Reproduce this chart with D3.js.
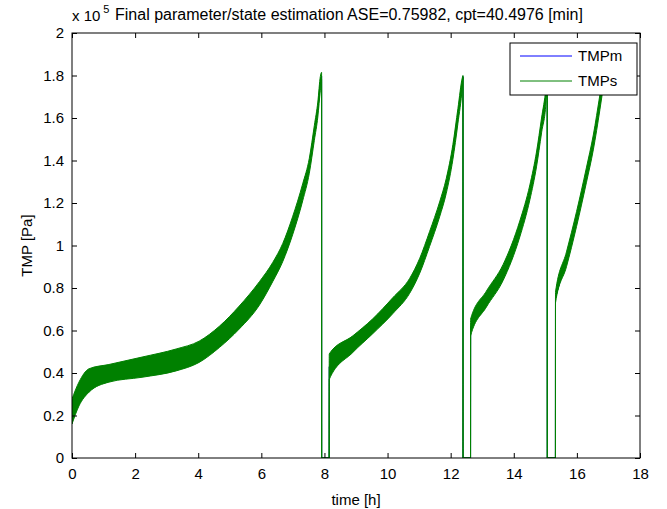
<!DOCTYPE html>
<html>
<head>
<meta charset="utf-8">
<script src="https://cdn.jsdelivr.net/npm/d3@7"></script>
<style>
  body { margin: 0; background: #fff; }
  text { font-family: "Liberation Sans", Arial, sans-serif; fill: #000; }
</style>
</head>
<body>
<div id="chart"></div>
<script>
// chart data (TMP in units of 1e5 Pa, time in hours)
// each point: time, lower and upper edge of the noisy band
var time = [
  0, 0.22, 0.54, 1.17, 2.22, 3.3, 4.03, 4.67, 5.3, 5.94, 6.36, 6.68, 6.99, 7.31, 7.52, 7.68, 7.79, 7.87, 7.91,
  7.912, 8.15,
  8.152, 8.9, 9.53, 10.17, 10.7, 11.02, 11.33, 11.65, 11.86, 12.07, 12.23, 12.37, 12.39,
  12.392, 12.63,
  12.632, 13.13, 13.66, 14.19, 14.51, 14.72, 14.88, 15.02, 15.06,
  15.062, 15.32,
  15.322, 15.67, 15.99, 16.3, 16.52, 16.73, 16.85
];
var tmpLow = [
  0.16, 0.245, 0.31, 0.357, 0.38, 0.41, 0.45, 0.52, 0.607, 0.72, 0.83, 0.925, 1.05, 1.21, 1.34, 1.495, 1.605, 1.73, 1.78,
  0, 0,
  0.37, 0.497, 0.585, 0.68, 0.775, 0.87, 0.995, 1.135, 1.245, 1.405, 1.575, 1.75, 1.79,
  0, 0,
  0.575, 0.71, 0.835, 1.04, 1.215, 1.37, 1.53, 1.67, 1.76,
  0, 0,
  0.73, 0.9, 1.09, 1.295, 1.45, 1.64, 1.76
];
var tmpHigh = [
  0.278, 0.357, 0.42, 0.44, 0.475, 0.513, 0.55, 0.62, 0.715, 0.83, 0.92, 1.01, 1.135, 1.29, 1.41, 1.565, 1.675, 1.795, 1.815,
  0, 0,
  0.49, 0.575, 0.655, 0.755, 0.845, 0.94, 1.065, 1.205, 1.315, 1.475, 1.645, 1.79, 1.80,
  0, 0,
  0.654, 0.785, 0.91, 1.115, 1.285, 1.44, 1.60, 1.74, 1.80,
  0, 0,
  0.78, 0.97, 1.16, 1.365, 1.52, 1.71, 1.82
];
var seriesNames = ["TMPm", "TMPs"];
var seriesColors = ["#0000ff", "#008000"];
var xTicks = [0, 2, 4, 6, 8, 10, 12, 14, 16, 18];
var yTicks = [0, 0.2, 0.4, 0.6, 0.8, 1, 1.2, 1.4, 1.6, 1.8, 2];
var titleText = "Final parameter/state estimation ASE=0.75982, cpt=40.4976 [min]";

var svgWidth = 667;
var svgHeight = 509;
var margin = { top: 33, right: 27, bottom: 51, left: 72 };
var width = svgWidth - margin.left - margin.right;
var height = svgHeight - margin.top - margin.bottom;

var svg = d3.select("#chart")
  .append("svg")
  .attr("width", svgWidth)
  .attr("height", svgHeight);

var chartGroup = svg.append("g")
  .attr("transform", `translate(${margin.left}, ${margin.top})`);

var xScale = d3.scaleLinear().domain([0, 18]).range([0, width]);
var yScale = d3.scaleLinear().domain([0, 2]).range([height, 0]);

var points = time.map(function (t, i) {
  return { t: t, lo: tmpLow[i], hi: tmpHigh[i], mid: (tmpLow[i] + tmpHigh[i]) / 2 };
});

// clip so nothing leaves the axes box
chartGroup.append("clipPath").attr("id", "plotClip")
  .append("rect").attr("width", width).attr("height", height);

var plot = chartGroup.append("g").attr("clip-path", "url(#plotClip)");

var midLine = d3.line()
  .x(d => xScale(d.t))
  .y(d => yScale(d.mid));

// measured TMP underneath
plot.append("path")
  .datum(points)
  .attr("fill", "none")
  .attr("stroke", seriesColors[0])
  .attr("stroke-width", 1)
  .attr("d", midLine);

// simulated TMP on top: noisy band + line
var band = d3.area()
  .x(d => xScale(d.t))
  .y0(d => yScale(d.lo))
  .y1(d => yScale(d.hi))
  .curve(d3.curveMonotoneX);

plot.append("path")
  .datum(points)
  .attr("fill", seriesColors[1])
  .attr("stroke", seriesColors[1])
  .attr("stroke-width", 1)
  .attr("d", band);

plot.append("path")
  .datum(points)
  .attr("fill", "none")
  .attr("stroke", seriesColors[1])
  .attr("stroke-width", 1)
  .attr("d", midLine);

// axes with inward ticks (box style)
var fmt = d => String(+d.toFixed(1));

var bottomAxis = d3.axisBottom(xScale).tickValues(xTicks).tickFormat(fmt).tickSize(-5).tickPadding(10);
var leftAxis = d3.axisLeft(yScale).tickValues(yTicks).tickFormat(fmt).tickSize(-5).tickPadding(8);
var topAxis = d3.axisTop(xScale).tickValues(xTicks).tickFormat("").tickSize(-5);
var rightAxis = d3.axisRight(yScale).tickValues(yTicks).tickFormat("").tickSize(-5);

[
  chartGroup.append("g").attr("transform", `translate(0, ${height})`).call(bottomAxis),
  chartGroup.append("g").call(leftAxis),
  chartGroup.append("g").call(topAxis),
  chartGroup.append("g").attr("transform", `translate(${width}, 0)`).call(rightAxis)
].forEach(function (g) {
  g.select(".domain").remove();
  g.selectAll("line").attr("stroke", "#000");
  g.selectAll("text").style("font-size", "15px");
});

chartGroup.append("rect")
  .attr("width", width)
  .attr("height", height)
  .attr("fill", "none")
  .attr("stroke", "#000")
  .attr("stroke-width", 1);

// axis labels
chartGroup.append("text")
  .attr("x", width / 2)
  .attr("y", height + 47)
  .attr("text-anchor", "middle")
  .style("font-size", "15px")
  .text("time [h]");

chartGroup.append("text")
  .attr("transform", `translate(-40, ${height / 2}) rotate(-90)`)
  .attr("text-anchor", "middle")
  .style("font-size", "15px")
  .text("TMP [Pa]");

// exponent and title
var expText = svg.append("text")
  .attr("x", 72)
  .attr("y", 21)
  .style("font-size", "15px");
expText.append("tspan").text("x 10");
expText.append("tspan").attr("dx", 3).attr("dy", -8).style("font-size", "11px").text("5");

svg.append("text")
  .attr("x", 115)
  .attr("y", 20)
  .style("font-size", "16px")
  .text(titleText);

// legend
var legend = svg.append("g").attr("transform", "translate(510, 43)");
legend.append("rect")
  .attr("width", 127)
  .attr("height", 52)
  .attr("fill", "#fff")
  .attr("stroke", "#000")
  .attr("stroke-width", 1);

seriesNames.forEach(function (name, i) {
  var row = legend.append("g").attr("transform", `translate(0, ${13 + i * 25})`);
  row.append("line")
    .attr("x1", 10).attr("x2", 62)
    .attr("stroke", seriesColors[i])
    .attr("stroke-width", 1);
  row.append("text")
    .attr("x", 68)
    .attr("dy", "0.35em")
    .style("font-size", "15px")
    .text(name);
});
</script>
</body>
</html>
